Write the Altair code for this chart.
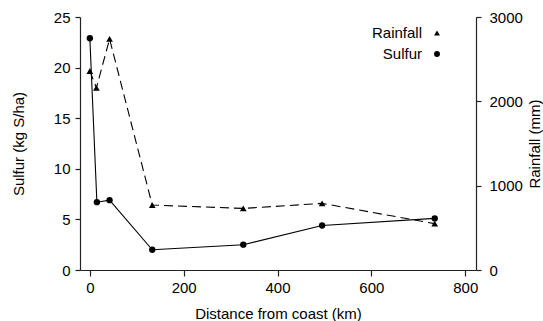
import altair as alt
import pandas as pd

sulfur_dist = [0, 15, 42, 133, 327, 495, 735]
sulfur_vals = [22.9, 6.7, 6.9, 2.0, 2.5, 4.4, 5.1]

rain_dist = [0, 14, 42, 133, 327, 495, 735]
rain_vals = [2360, 2160, 2740, 770, 730, 790, 550]

legend_labels = ["Rainfall", "Sulfur"]
legend_shapes = ["triangle-up", "circle"]

x_ticks = [0, 200, 400, 600, 800]

FONT = "Liberation Sans"
FS = 15

sdf = pd.DataFrame({"dist": sulfur_dist, "val": sulfur_vals})
rdf = pd.DataFrame({"dist": rain_dist, "val": rain_vals})

xenc = alt.X("dist:Q", scale=alt.Scale(domain=[-21, 823], nice=False, zero=False),
             axis=alt.Axis(values=x_ticks, title="Distance from coast (km)", grid=False,
                           tickSize=6, labelPadding=4, titlePadding=11, format="d"))

s_y = alt.Y("val:Q", scale=alt.Scale(domain=[0, 25], nice=False),
            axis=alt.Axis(values=[0, 5, 10, 15, 20, 25], title="Sulfur (kg S/ha)", grid=False,
                          tickSize=5, labelPadding=5, titlePadding=27))

sul_line = alt.Chart(sdf).mark_line(color="black", strokeWidth=1.1).encode(x=xenc, y=s_y)
sul_pts = alt.Chart(sdf).mark_point(filled=True, color="black", size=40, opacity=1, shape="circle").encode(
    x=alt.X("dist:Q"), y=alt.Y("val:Q"))
sulfur = alt.layer(sul_line, sul_pts)

r_y = alt.Y("val:Q", scale=alt.Scale(domain=[0, 3000], nice=False),
            axis=alt.Axis(values=[0, 1000, 2000, 3000], orient="right", title="Rainfall (mm)", grid=False,
                          tickSize=5, labelPadding=8, titlePadding=5, titleAngle=270,
                          titleBaseline="top", format="d"))
rain_line = alt.Chart(rdf).mark_line(color="black", strokeWidth=1.1, strokeDash=[9, 5]).encode(x=alt.X("dist:Q"), y=r_y)
rain_pts = alt.Chart(rdf).mark_point(filled=True, color="black", size=45, opacity=1, shape="triangle-up").encode(
    x=alt.X("dist:Q"), y=alt.Y("val:Q"))
rain = alt.layer(rain_line, rain_pts)

legend_y = [16, 37]
leg_layers = []
for lab, shp, yy in zip(legend_labels, legend_shapes, legend_y):
    d = pd.DataFrame({"label": [lab], "shape": [shp]})
    leg_layers.append(alt.Chart(d).mark_text(align="right", baseline="middle", fontSize=FS, font=FONT,
                                              color="black").encode(
        x=alt.value(342), y=alt.value(yy), text="label:N"))
    leg_layers.append(alt.Chart(d).mark_point(filled=True, color="black", opacity=1, size=35, shape=shp).encode(
        x=alt.value(357), y=alt.value(yy)))
legend = alt.layer(*leg_layers)

chart = alt.layer(sulfur, rain, legend).resolve_scale(y="independent").properties(
    width=396, height=253,
    autosize=alt.AutoSizeParams(type="none"),
    padding={"left": 80, "top": 17, "right": 67, "bottom": 51},
).configure_view(stroke=None).configure_axis(
    labelFont=FONT, titleFont=FONT, labelFontSize=FS, titleFontSize=FS,
    labelColor="black", titleColor="black", domainColor="#222", tickColor="#222",
    titleFontWeight="normal", domainWidth=1.2, tickWidth=1.2,
)

chart.save("out.html", embed_options={"renderer": "svg", "actions": False})
